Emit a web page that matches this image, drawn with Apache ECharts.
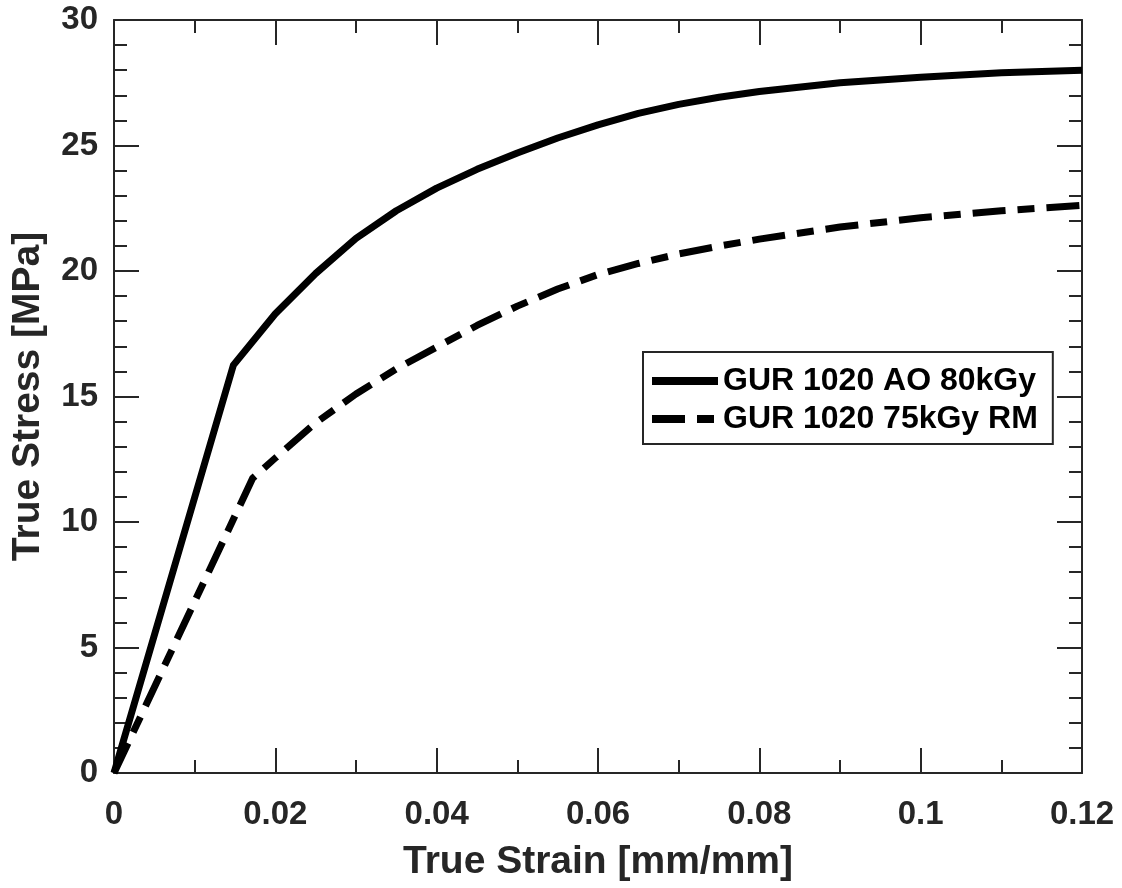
<!DOCTYPE html>
<html>
<head>
<meta charset="utf-8">
<script src="https://cdn.jsdelivr.net/npm/echarts@6/dist/echarts.min.js"></script>
<style>
  html, body { margin: 0; padding: 0; background: #ffffff; }
  #chart { width: 1122px; height: 888px; }
</style>
</head>
<body>
<div id="chart"></div>
<script>
// ---- data ----
const seriesNames = ['GUR 1020 AO 80kGy', 'GUR 1020 75kGy RM'];

const strainAO = [0, 0.0148, 0.02, 0.025, 0.03, 0.035, 0.04, 0.045, 0.05, 0.055, 0.06, 0.065, 0.07, 0.075, 0.08, 0.09, 0.10, 0.11, 0.12];
const stressAO = [0, 16.25, 18.3, 19.9, 21.3, 22.4, 23.3, 24.05, 24.7, 25.3, 25.82, 26.28, 26.64, 26.92, 27.15, 27.5, 27.72, 27.9, 28.0];

const strainRM = [0, 0.0172, 0.02, 0.025, 0.03, 0.035, 0.04, 0.045, 0.05, 0.055, 0.06, 0.065, 0.07, 0.075, 0.08, 0.09, 0.10, 0.11, 0.12];
const stressRM = [0, 11.75, 12.55, 13.95, 15.1, 16.1, 16.97, 17.83, 18.6, 19.28, 19.86, 20.3, 20.68, 20.99, 21.27, 21.75, 22.12, 22.4, 22.62];

const xTickLabels = ['0', '0.02', '0.04', '0.06', '0.08', '0.1', '0.12'];
const yTickLabels = ['0', '5', '10', '15', '20', '25', '30'];

const xTitle = 'True Strain [mm/mm]';
const yTitle = 'True Stress [MPa]';

// ---- chart ----
const ink = '#262626';
const font = 'Liberation Sans, Arial, Helvetica, sans-serif';

function pairs(xs, ys) { return xs.map((x, i) => [x, ys[i]]); }
function xFmt(v) {
  const i = Math.round(v / 0.02);
  return xTickLabels[i] !== undefined ? xTickLabels[i] : '';
}
function yFmt(v) {
  const i = Math.round(v / 5);
  return yTickLabels[i] !== undefined ? yTickLabels[i] : '';
}

const axisLine = { show: true, onZero: false, lineStyle: { color: ink, width: 2 } };
const axisTick = { show: true, inside: true, length: 25, lineStyle: { color: ink, width: 2 } };
const minorTick = { show: true, length: 13, lineStyle: { color: ink, width: 2 } };

const solidIcon = 'path://M0,0H66V8H0Z';
const dashIcon = 'path://M0,0H33V8H0Z M45,0H62V8H45Z M65.9,3.9H66V4H65.9Z';

const chart = echarts.init(document.getElementById('chart'), null, { renderer: 'canvas' });
chart.setOption({
  animation: false,
  backgroundColor: '#ffffff',
  grid: { left: 114, right: 40, top: 20, bottom: 115, containLabel: false, outerBoundsMode: 'none' },
  xAxis: [
    {
      type: 'value', min: 0, max: 0.12, interval: 0.02, position: 'bottom',
      axisLine, axisTick, splitLine: { show: false },
      minorTick: Object.assign({ splitNumber: 2 }, minorTick),
      axisLabel: { formatter: xFmt, color: ink, fontFamily: font, fontWeight: 'bold', fontSize: 33, margin: 25 },
      name: xTitle, nameLocation: 'middle', nameGap: 70,
      nameTextStyle: { color: ink, fontFamily: font, fontWeight: 'bold', fontSize: 39 }
    },
    {
      type: 'value', min: 0, max: 0.12, interval: 0.02, position: 'top',
      axisLine, axisTick, splitLine: { show: false },
      minorTick: Object.assign({ splitNumber: 2 }, minorTick),
      axisLabel: { show: false }
    }
  ],
  yAxis: [
    {
      type: 'value', min: 0, max: 30, interval: 5, position: 'left',
      axisLine, axisTick, splitLine: { show: false },
      minorTick: Object.assign({ splitNumber: 5 }, minorTick),
      axisLabel: { formatter: yFmt, color: ink, fontFamily: font, fontWeight: 'bold', fontSize: 33, margin: 16, padding: [5, 0, 0, 0] },
      name: yTitle, nameLocation: 'middle', nameGap: 66, nameRotate: 90,
      nameTextStyle: { color: ink, fontFamily: font, fontWeight: 'bold', fontSize: 39 }
    },
    {
      type: 'value', min: 0, max: 30, interval: 5, position: 'right',
      axisLine, axisTick, splitLine: { show: false },
      minorTick: Object.assign({ splitNumber: 5 }, minorTick),
      axisLabel: { show: false }
    }
  ],
  legend: {
    show: true,
    orient: 'vertical',
    left: 643, top: 352,
    padding: [13, 15, 9, 9],
    itemGap: 6,
    itemWidth: 66, itemHeight: 8,
    symbolKeepAspect: false,
    backgroundColor: '#ffffff',
    borderColor: ink, borderWidth: 2, borderRadius: 0,
    textStyle: { color: '#000000', fontFamily: font, fontWeight: 'bold', fontSize: 32, lineHeight: 30, padding: [0, 0, 0, 0] },
    data: [
      { name: seriesNames[0], icon: solidIcon, itemStyle: { color: '#000000', borderWidth: 0 } },
      { name: seriesNames[1], icon: dashIcon, itemStyle: { color: '#000000', borderWidth: 0 } }
    ]
  },
  series: [
    {
      name: seriesNames[0], type: 'line', xAxisIndex: 0, yAxisIndex: 0,
      data: pairs(strainAO, stressAO), showSymbol: false, symbol: 'none',
      smooth: false, z: 3,
      lineStyle: { color: '#000000', width: 7, type: 'solid', cap: 'butt', join: 'round' },
      itemStyle: { color: '#000000' }
    },
    {
      name: seriesNames[1], type: 'line', xAxisIndex: 0, yAxisIndex: 0,
      data: pairs(strainRM, stressRM), showSymbol: false, symbol: 'none',
      smooth: false, z: 3,
      lineStyle: { color: '#000000', width: 7, type: [33, 12, 17, 12], cap: 'butt', join: 'round' },
      itemStyle: { color: '#000000' }
    }
  ]
});
</script>
</body>
</html>
